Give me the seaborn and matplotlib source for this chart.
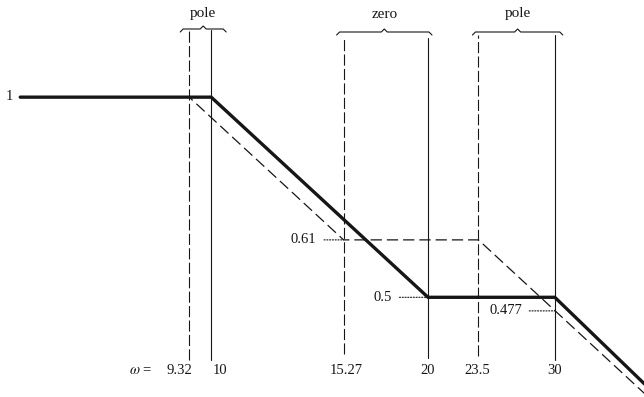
import numpy as np
import pandas as pd
import matplotlib
matplotlib.use("Agg")
import matplotlib.pyplot as plt
import matplotlib.transforms as mtransforms
import seaborn as sns

# ---- data ----
actual_w = [5.43, 10, 20, 30, 40]
actual_mag = [1.0, 1.0, 0.5, 0.5, 0.37]
approx_w = [5.43, 9.32, 15.27, 23.5, 40]
approx_mag = [1.0, 1.0, 0.61, 0.61, 0.358]

dashed_breaks = [9.32, 15.27, 23.5]
solid_breaks = [10, 20, 30]
break_labels = ["9.32", "10", "15.27", "20", "23.5", "30"]
break_values = [9.32, 10, 15.27, 20, 23.5, 30]

level_w = [15.27, 20, 30]
level_mag = [0.61, 0.5, 0.477]
level_text = ["0.61", "0.5", "0.477"]

group_names = ["pole", "zero", "pole"]
group_lo = [9.32, 15.27, 23.5]
group_hi = [10, 20, 30]

sns.set_theme(style="white")
plt.rcParams["font.family"] = ["Liberation Serif", "DejaVu Serif"]
plt.rcParams["mathtext.fontset"] = "stix"

W, H = 644, 397
fig = plt.figure(figsize=(W / 100, H / 100), dpi=100)
ax = fig.add_axes([0, 0, 1, 1])
ax.set_xscale("log")
ax.set_yscale("log")
ax.set_xlim(5.09, 39.9)
ax.set_ylim(0.354, 1.40)
ax.axis("off")

ink = "#161616"

df_a = pd.DataFrame({"w": actual_w, "m": actual_mag})
df_b = pd.DataFrame({"w": approx_w, "m": approx_mag})
sns.lineplot(data=df_b, x="w", y="m", ax=ax, color=ink, lw=0.9,
             linestyle=(0, (9, 4)), estimator=None, sort=False)
sns.lineplot(data=df_a, x="w", y="m", ax=ax, color=ink, lw=2.4,
             estimator=None, sort=False, solid_joinstyle="miter")

xt = ax.get_xaxis_transform()
def frac(py):
    return 1 - py / H

# vertical lines: (x, top px, bottom px, dashed)
vtops = {9.32: 30, 10: 30, 15.27: 38, 20: 38, 23.5: 35, 30: 35}
vbots = {9.32: 360, 10: 360, 15.27: 354, 20: 358, 23.5: 356, 30: 360}
for x in dashed_breaks:
    ax.plot([x, x], [frac(vbots[x]), frac(vtops[x])], transform=xt,
            color=ink, lw=0.8, linestyle=(0, (10, 3)))
for x in solid_breaks:
    ax.plot([x, x], [frac(vbots[x]), frac(vtops[x])], transform=xt,
            color=ink, lw=0.8)

fs = 10.5
# bottom labels
offs = {"9.32": (3, "right"), "10": (2, "left"), "15.27": (3, "center"),
        "20": (0, "center"), "23.5": (-1, "center"), "30": (0, "center")}
for lab, x in zip(break_labels, break_values):
    dx, ha = offs[lab]
    ax.annotate(lab, xy=(x, frac(371)), xycoords=xt, xytext=(dx, 0),
                textcoords="offset pixels", ha=ha, va="center",
                fontsize=fs, color=ink)
ax.annotate(r"$\omega$ =", xy=(9.32, frac(371)), xycoords=xt,
            xytext=(-37, 0), textcoords="offset pixels", ha="right",
            va="center", fontsize=fs, color=ink)

# level labels with dotted leaders
ldx = {"0.61": 27, "0.5": 36, "0.477": 33}
for x, m, t in zip(level_w, level_mag, level_text):
    ax.annotate(t, xy=(x, m), xytext=(-ldx[t], 0), textcoords="offset pixels",
                ha="right", va="center", fontsize=fs, color=ink,
                arrowprops=dict(arrowstyle="-", linestyle=(0, (1, 1.5)),
                                color=ink, lw=0.8, shrinkA=3, shrinkB=0))
ax.annotate("1", xy=(actual_w[0], actual_mag[0]), xytext=(-7, 1),
            textcoords="offset pixels", ha="right", va="center",
            fontsize=fs, color=ink)

# braces drawn in pixel coordinates
ident = mtransforms.IdentityTransform()
pads = [(9, 15), (7, 4), (6, 8)]
brace_y = [29, 32, 32]
text_y = [13, 14, 13]
for name, lo, hi, (pl, pr), by, ty in zip(group_names, group_lo, group_hi,
                                          pads, brace_y, text_y):
    xlo = ax.transData.transform((lo, 1))[0] - pl
    xhi = ax.transData.transform((hi, 1))[0] + pr
    mid = 0.5 * (xlo + xhi)
    yb = H - by
    xs = [xlo, xlo + 3, mid - 3, mid, mid + 3, xhi - 3, xhi]
    ys = [yb - 3, yb, yb, yb + 3, yb, yb, yb - 3]
    ax.add_line(plt.Line2D(xs, ys, transform=ident, color=ink, lw=0.8))
    ax.text(mid, H - ty, name, transform=ident, ha="center", va="center",
            fontsize=11, color=ink)

fig.savefig("out.png", dpi=100, facecolor="white")
